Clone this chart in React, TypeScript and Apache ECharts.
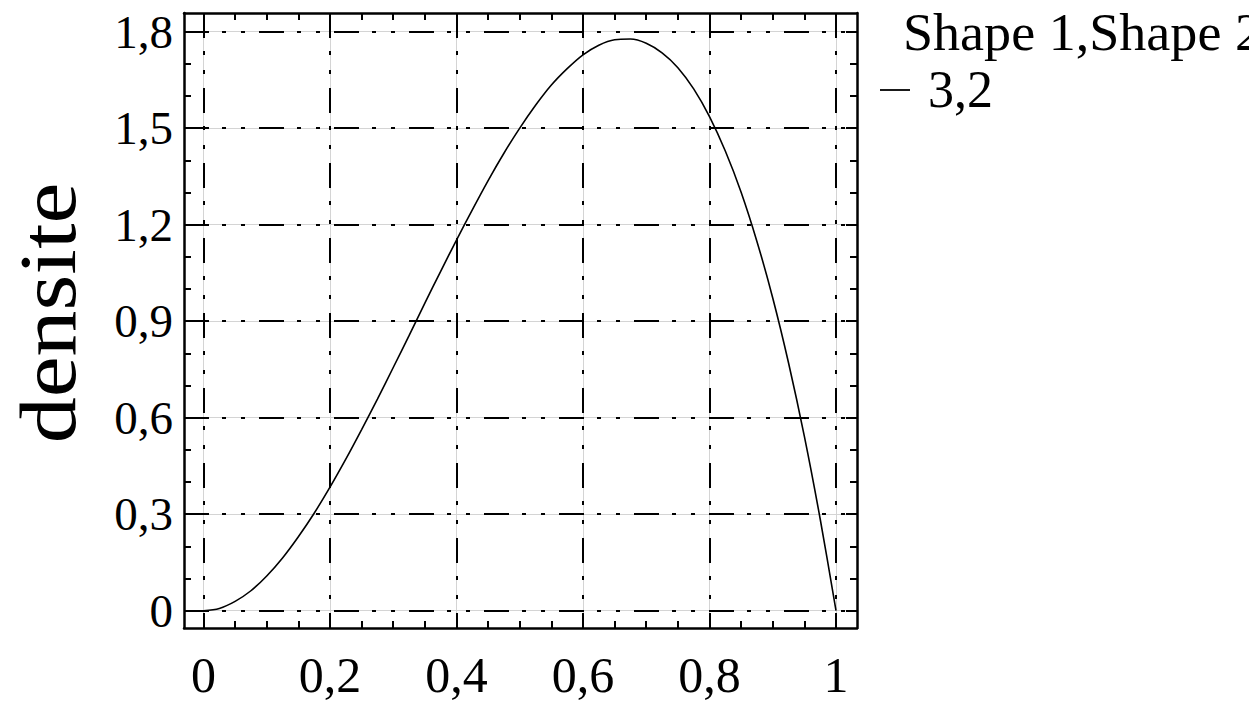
import React, { useEffect, useRef } from "react";
import * as echarts from "echarts";

// Beta density curve
const xValues = [
  0, 0.025, 0.05, 0.075, 0.1, 0.125, 0.15, 0.175, 0.2, 0.225, 0.25, 0.275, 0.3,
  0.325, 0.35, 0.375, 0.4, 0.425, 0.45, 0.475, 0.5, 0.525, 0.55, 0.575, 0.6,
  0.625, 0.65, 0.675, 0.7, 0.725, 0.75, 0.775, 0.8, 0.825, 0.85, 0.875, 0.9,
  0.925, 0.95, 0.975, 1,
];
const densite = [
  0, 0.007, 0.029, 0.062, 0.108, 0.164, 0.23, 0.303, 0.384, 0.471, 0.563,
  0.658, 0.756, 0.855, 0.956, 1.055, 1.152, 1.246, 1.337, 1.422, 1.5, 1.571,
  1.634, 1.685, 1.728, 1.758, 1.775, 1.777, 1.764, 1.734, 1.688, 1.622, 1.536,
  1.429, 1.301, 1.148, 0.972, 0.77, 0.542, 0.285, 0,
];

const xMajor = [0, 0.2, 0.4, 0.6, 0.8, 1];
const xMinor = [
  0.05, 0.1, 0.15, 0.25, 0.3, 0.35, 0.45, 0.5, 0.55, 0.65, 0.7, 0.75, 0.85,
  0.9, 0.95,
];
const yMajor = [0, 0.3, 0.6, 0.9, 1.2, 1.5, 1.8];
const yMinor = [0.1, 0.2, 0.4, 0.5, 0.7, 0.8, 1.0, 1.1, 1.3, 1.4, 1.6, 1.7];

const legendTitle = "Shape 1,Shape 2";
const legendEntry = "3,2";
const yName = "densite";

const X_MIN = -0.0308;
const X_MAX = 1.0332;
const Y_MIN = -0.0538;
const Y_MAX = 1.858;

const FONT = "Liberation Serif, Times New Roman, Times, serif";
const DASH = [25, 13, 4, 15, 4, 14];

const fmt = (v: number) => String(v).replace(".", ",");

export default function App() {
  const ref = useRef<HTMLDivElement>(null);

  useEffect(() => {
    if (!ref.current) return;
    const chart = echarts.init(ref.current, undefined, { renderer: "svg" });

    const frameLine = {
      show: true,
      onZero: false,
      lineStyle: { color: "#000", width: 2.5 },
    };
    const noLine = { show: false, onZero: false };

    const xBase = {
      type: "value" as const,
      min: X_MIN,
      max: X_MAX,
      gridIndex: 0,
    };
    const yBase = {
      type: "value" as const,
      min: Y_MIN,
      max: Y_MAX,
      gridIndex: 0,
    };

    const majorTick = (vals: number[]) => ({
      show: true,
      inside: true,
      length: 11,
      customValues: vals,
      lineStyle: { color: "#000", width: 2 },
    });
    const minorTick = (vals: number[]) => ({
      show: true,
      inside: true,
      length: 7,
      customValues: vals,
      lineStyle: { color: "#000", width: 2 },
    });

    const option: any = {
      animation: false,
      backgroundColor: "#fff",
      grid: { left: 184, top: 13, width: 673, height: 615, containLabel: false },
      xAxis: [
        {
          ...xBase,
          position: "bottom",
          z: 1,
          axisLine: frameLine,
          axisTick: majorTick(xMajor),
          axisLabel: {
            show: true,
            customValues: xMajor,
            formatter: fmt,
            margin: 22,
            color: "#000",
            fontFamily: FONT,
            fontSize: 50,
          },
          splitLine: {
            show: true,
            lineStyle: { color: "#000", width: 2, type: DASH },
          },
        },
        {
          ...xBase,
          position: "bottom",
          axisLine: noLine,
          axisTick: minorTick(xMinor),
          axisLabel: { show: false },
          splitLine: { show: false },
        },
        {
          ...xBase,
          position: "top",
          z: 0,
          axisLine: frameLine,
          axisTick: majorTick(xMajor),
          axisLabel: { show: false },
          splitLine: {
            show: true,
            lineStyle: { color: "#d4d4d4", width: 1, type: "solid" },
          },
        },
        {
          ...xBase,
          position: "top",
          axisLine: noLine,
          axisTick: minorTick(xMinor),
          axisLabel: { show: false },
          splitLine: { show: false },
        },
      ],
      yAxis: [
        {
          ...yBase,
          position: "left",
          z: 1,
          axisLine: frameLine,
          axisTick: majorTick(yMajor),
          axisLabel: {
            show: true,
            customValues: yMajor,
            formatter: fmt,
            margin: 11,
            color: "#000",
            fontFamily: FONT,
            fontSize: 47,
          },
          splitLine: {
            show: true,
            lineStyle: { color: "#000", width: 2, type: DASH },
          },
        },
        {
          ...yBase,
          position: "left",
          axisLine: noLine,
          axisTick: minorTick(yMinor),
          axisLabel: { show: false },
          splitLine: { show: false },
        },
        {
          ...yBase,
          position: "right",
          z: 0,
          axisLine: frameLine,
          axisTick: majorTick(yMajor),
          axisLabel: { show: false },
          splitLine: {
            show: true,
            lineStyle: { color: "#d4d4d4", width: 1, type: "solid" },
          },
        },
        {
          ...yBase,
          position: "right",
          axisLine: noLine,
          axisTick: minorTick(yMinor),
          axisLabel: { show: false },
          splitLine: { show: false },
        },
      ],
      series: [
        {
          type: "line",
          name: legendEntry,
          xAxisIndex: 0,
          yAxisIndex: 0,
          data: xValues.map((x, i) => [x, densite[i]]),
          smooth: 0.3,
          showSymbol: false,
          z: 5,
          lineStyle: { color: "#000", width: 1.6 },
        },
      ],
      graphic: [
        {
          type: "text",
          x: 48,
          y: 313,
          rotation: Math.PI / 2,
          scaleX: 1.15,
          style: {
            text: yName,
            fontFamily: FONT,
            fontSize: 80,
            fill: "#000",
            textAlign: "center",
            textVerticalAlign: "middle",
          },
        },
        {
          type: "text",
          x: 903,
          y: 32,
          scaleX: 1.04,
          style: {
            text: legendTitle,
            fontFamily: FONT,
            fontSize: 52,
            fill: "#000",
            textAlign: "left",
            textVerticalAlign: "middle",
          },
        },
        {
          type: "line",
          shape: { x1: 880, y1: 90, x2: 910, y2: 90 },
          style: { stroke: "#000", lineWidth: 1.8 },
        },
        {
          type: "text",
          x: 928,
          y: 89,
          style: {
            text: legendEntry,
            fontFamily: FONT,
            fontSize: 52,
            fill: "#000",
            textAlign: "left",
            textVerticalAlign: "middle",
          },
        },
      ],
    };

    chart.setOption(option);
    return () => chart.dispose();
  }, []);

  return (
    <div
      ref={ref}
      style={{ position: "fixed", left: 0, top: 0, width: 1249, height: 703 }}
    />
  );
}
